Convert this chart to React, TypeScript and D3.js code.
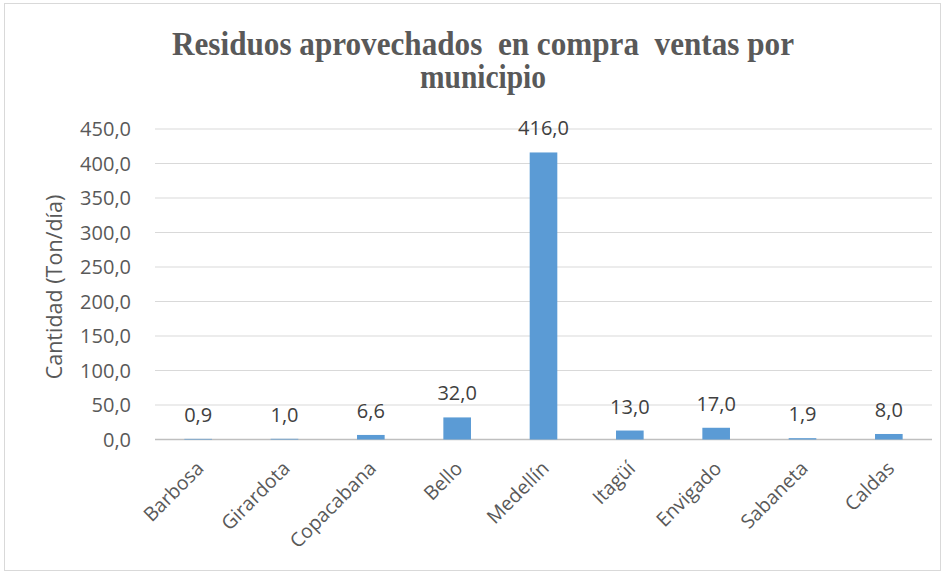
import React, { useRef, useEffect } from 'react';
import * as d3 from 'd3';

const municipios = ['Barbosa', 'Girardota', 'Copacabana', 'Bello', 'Medellín', 'Itagüí', 'Envigado', 'Sabaneta', 'Caldas'];
const cantidades = [0.9, 1.0, 6.6, 32.0, 416.0, 13.0, 17.0, 1.9, 8.0];
const yTicks = [0, 50, 100, 150, 200, 250, 300, 350, 400, 450];

const fmt = (v: number) => v.toFixed(1).replace('.', ',');

const App: React.FC = () => {
    const svgRef = useRef<SVGSVGElement | null>(null);

    useEffect(() => {
        if (!svgRef.current) return;
        const left = 155;
        const plotW = 777;

        const svg = d3.select(svgRef.current);
        svg.selectAll('*').remove();

        // chart border
        svg.append('rect')
            .attr('x', 4.5).attr('y', 3.5)
            .attr('width', 936).attr('height', 567)
            .attr('fill', 'white')
            .attr('stroke', '#D9D9D9');

        const x = d3.scaleBand<string>()
            .domain(municipios)
            .range([left, left + plotW])
            .paddingInner(0.68)
            .paddingOuter(0.34);

        const y = d3.scaleLinear()
            .domain([0, 450])
            .range([439.5, 129]);

        // gridlines
        svg.append('g')
            .selectAll('line')
            .data(yTicks)
            .enter().append('line')
            .attr('x1', left)
            .attr('x2', left + plotW)
            .attr('y1', d => y(d))
            .attr('y2', d => y(d))
            .attr('stroke', d => d === 0 ? '#BFBFBF' : '#D9D9D9')
            .attr('stroke-width', d => d === 0 ? 1.5 : 1.2);

        // y tick labels
        svg.append('g')
            .selectAll('text')
            .data(yTicks)
            .enter().append('text')
            .attr('x', 131)
            .attr('y', d => y(d))
            .attr('dy', '0.35em')
            .attr('text-anchor', 'end')
            .attr('fill', '#595959')
            .style('font-family', 'Open Sans')
            .style('font-size', '20px')
            .text(d => fmt(d));

        // bars
        svg.append('g')
            .selectAll('rect')
            .data(municipios)
            .enter().append('rect')
            .attr('x', d => x(d) ?? 0)
            .attr('width', x.bandwidth())
            .attr('y', (_, i) => y(cantidades[i]))
            .attr('height', (_, i) => y(0) - y(cantidades[i]))
            .attr('fill', '#5B9BD5');

        // data labels
        svg.append('g')
            .selectAll('text')
            .data(municipios)
            .enter().append('text')
            .attr('x', d => (x(d) ?? 0) + x.bandwidth() / 2)
            .attr('y', (_, i) => y(cantidades[i]) - 17)
            .attr('text-anchor', 'middle')
            .attr('fill', '#404040')
            .style('font-family', 'Open Sans')
            .style('font-size', '20px')
            .text((_, i) => fmt(cantidades[i]));

        // x labels rotated
        svg.append('g')
            .selectAll('text')
            .data(municipios)
            .enter().append('text')
            .attr('transform', d => `translate(${(x(d) ?? 0) + x.bandwidth() / 2 - 3},${460}) rotate(-45)`)
            .attr('text-anchor', 'end')
            .attr('dy', '0.7em')
            .attr('fill', '#595959')
            .style('font-family', 'Open Sans')
            .style('font-size', '19.5px')
            .text(d => d);

        // y axis title
        svg.append('text')
            .attr('transform', `translate(62,287) rotate(-90)`)
            .attr('text-anchor', 'middle')
            .attr('fill', '#595959')
            .style('font-family', 'Open Sans')
            .style('font-size', '21.5px')
            .text('Cantidad (Ton/día)');

        // title
        const title = svg.append('g')
            .attr('fill', '#595959')
            .style('font-family', 'Liberation Serif')
            .style('font-weight', 'bold')
            .style('font-size', '34px');
        title.append('text')
            .attr('x', 172).attr('y', 55)
            .attr('textLength', 622)
            .attr('lengthAdjust', 'spacingAndGlyphs')
            .style('white-space', 'pre')
            .text('Residuos aprovechados  en compra  ventas por');
        title.append('text')
            .attr('x', 420).attr('y', 88)
            .attr('textLength', 126)
            .attr('lengthAdjust', 'spacingAndGlyphs')
            .text('municipio');
    }, []);

    return (
        <svg ref={svgRef} width={947} height={575}
            style={{ position: 'absolute', left: 0, top: 0 }} />
    );
};

export default App;
